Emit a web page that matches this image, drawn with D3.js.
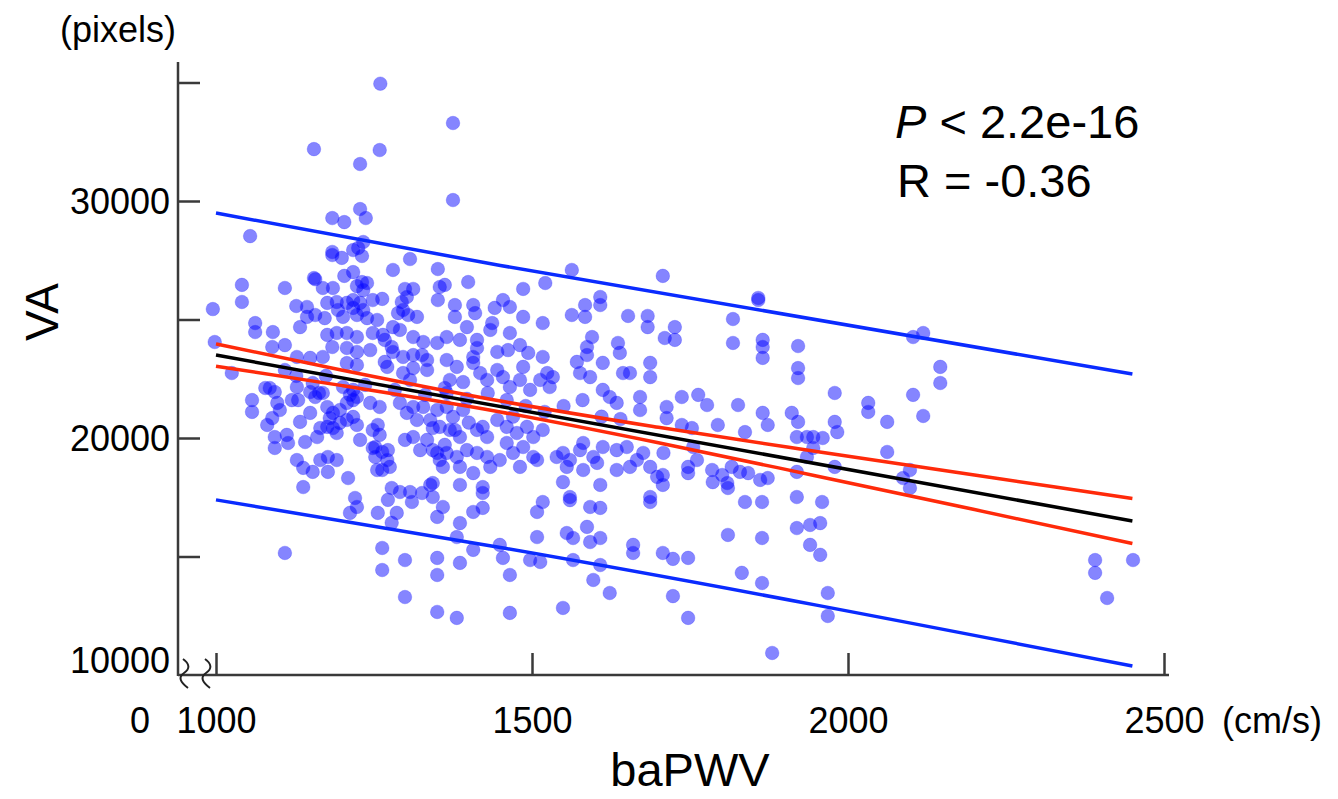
<!DOCTYPE html>
<html>
<head>
<meta charset="utf-8">
<script src="https://cdn.jsdelivr.net/npm/d3@7"></script>
<style>
  body { margin: 0; background: #fff; }
  text { font-family: 'Liberation Sans', Arial, Helvetica, sans-serif; fill: #000; }
</style>
</head>
<body>
<svg id="chart" width="1338" height="799"></svg>
<script>
'use strict'

// baPWV (cm/s) and VA (pixels)
const pwv = [
  1260,1155,1259,1228,1054,1184,1203,1228,1237,1233,1184,1184,1199,1217,1225,1231,1307,1280,1351,1217,
  1203,1155,1157,1231,1239,1041,1109,1169,1185,1223,1233,1299,1312,1302,1041,995,1127,1144,1176,1191,
  1207,1217,1228,1248,1263,1294,1354,1351,1144,1133,1157,1172,1193,1201,1217,1223,1233,1239,1255,1288,
  1296,1304,1318,1062,1062,1090,1109,1089,998,1176,1191,1207,1223,1248,1264,1267,1280,1291,1312,1328,
  1350,1169,1184,1207,1223,1244,1278,1280,1296,1312,1326,1334,1128,1149,1207,1223,1267,1271,
  1025,1057,1057,1078,1093,1081,1093,1093,1112,1114,1089,1097,1101,1128,1130,1141,1133,1128,1138,1153,
  1165,1177,1191,1177,1138,1209,1149,1160,1165,1149,1157,1169,1176,1185,1196,1207,1217,1176,1185,1196,
  1207,1217,1223,1180,1191,1201,1217,1223,1220,1223,1212,1109,1244,1259,1248,1259,1256,1248,1252,1263,
  1272,1271,1255,1263,1275,1256,1286,1278,1272,1278,1291,1307,1310,1326,1339,1343,1263,1263,1299,1299,
  1350,1350,1350,1291,1312,1302,1318,1328,1339,1343,1312,1334,1343,1354,1296,1312,1334,
  1109,1127,1085,1153,1174,1120,1163,1212,1236,1283,1307,1331,1362,1228,1252,1299,1323,1362,1378,
  1375,1375,1362,1399,1378,1378,1407,1410,1397,1441,1454,1465,1437,1434,1465,1486,1486,1521,1517,1563,
  1563,1584,1584,1608,1608,1595,1587,1587,1652,1683,1683,1707,1710,1636,1639,1365,1386,1413,1413,1445,
  1462,1481,1494,1517,1571,1612,1687,1365,1407,1407,
  1381,1370,1391,1418,1429,1445,1454,1465,1481,1486,1497,1513,1524,1533,1528,1576,1592,1612,1623,1634,
  1644,1655,1671,1687,1350,1365,1375,1391,1354,1370,1386,1413,1422,1429,1445,1460,1476,1492,1502,1517,
  1460,1470,1486,1502,1508,1449,1434,1429,1413,1397,1381,1365,1350,1359,1386,1407,1481,1539,1549,1560,
  1576,1581,1597,1603,1581,1555,1612,1634,1650,1666,1655,1634,1676,1687,1698,1708,1713,1671,1343,1359,
  1350,1386,1422,1422,1407,1422,1386,1381,1386,1407,1449,1454,1465,1508,1517,1508,1497,1513,1555,1565,
  1587,1592,1608,1592,1608,1565,1608,1597,1623,1660,1660,1549,1560,1560,1608,1687,1687,1381,1465,1549,
  1365,1397,1430,1460,1490,1520,1550,1580,1610,1640,1470,1400,
  1858,1858,1818,1726,1726,1818,1865,1865,1865,1921,1921,2103,2119,2146,
  1921,1737,1763,1777,1713,1826,1865,1873,1911,1921,1979,2032,2032,2062,1979,1983,1794,1837,1919,1935,
  1945,1960,1945,1935,1737,1753,1755,1761,1747,1747,1785,1786,1801,1809,1816,1829,1842,1810,1707,1707,
  1861,1873,1837,1864,1919,1919,1959,1979,2062,1810,1864,1919,1940,1956,1940,1956,1707,1723,1747,1832,
  1864,1723,1747,1968,1968,1880,
  2146,2103,2119,2098,2087,2098,2391,2391,2451,2410
]
const va = [
  34950,32190,32150,31560,28520,29280,29110,29660,29280,28270,27850,27720,27600,27930,28020,27680,27550,27090,27130,27000,
  26840,26750,26700,26580,26540,26460,26330,26330,26330,26410,26240,26290,26290,25950,25740,25440,25570,25530,25700,25740,
  25700,25820,25700,25820,25870,25740,26370,25820,25110,24680,25190,25060,25400,25110,25490,25190,25400,25060,24980,25270,
  25400,25190,25110,24850,24470,24470,23920,23840,24050,24350,24430,24430,24260,24430,24350,24140,24680,24560,24260,24050,
  24010,23420,23840,23800,23630,23710,23840,23630,23420,23500,23500,23290,23420,23380,23160,23080,23210,23000,
  22740,21600,21100,22110,21940,20550,20040,19580,20130,19790,20840,21480,21180,22150,21600,19830,20680,19070,18740,18570,
  19070,19200,19070,18570,17930,18310,21060,20040,20420,21940,21730,21900,21310,21060,21180,21480,21600,20470,20420,20640,
  20760,20890,20550,20840,20210,22150,22030,21730,17470,17090,16840,15150,21480,21310,20340,20130,20550,19580,19200,19410,
  19490,19070,18650,18650,18780,16840,16840,16420,17390,17890,17720,17720,17300,17680,18020,17510,15360,14430,14850,13290,
  14940,14220,12660,21480,21310,21060,20760,21310,20760,20420,20040,19920,19490,19070,22740,22950,22870,
  22870,22620,22110,22320,22620,21600,21900,21820,22240,22030,22450,21820,22110,19920,19620,19920,19490,19710,20340,
  33290,30040,26460,26580,25610,25110,25610,25270,24680,25490,25820,25530,24850,24560,24430,26290,25110,26540,24850,27090,
  25190,25610,25110,25950,25610,24260,23840,23500,25150,25150,24680,26840,24220,24010,23590,24260,24140,24140,23800,23630,
  23710,23920,23590,23420,23210,23170,23170,23290,23420,23170,
  23000,22450,22360,22740,22450,22870,22570,22150,22450,23000,22030,22450,22740,22570,22150,22740,22570,22030,21730,21480,
  22740,22740,21730,22570,21180,21310,20890,21180,20470,20340,20040,20340,20470,20040,20760,20470,20210,20470,20040,20340,
  19790,19370,19620,19200,19070,19070,18780,19200,19370,19490,19200,19370,19370,18780,18780,18520,18780,19200,19370,19070,
  19490,19790,19200,18950,18650,18780,19620,19490,19620,19070,18780,18650,19370,18780,18360,19370,21310,21180,18100,17090,
  16670,18020,17930,17680,16880,17050,16410,15820,14730,15280,15490,14940,14220,16880,17300,15820,14850,14770,15990,15780,
  16250,17090,17050,15610,15780,14850,14640,14010,13460,15490,15150,18140,17510,17380,18020,17510,17300,12410,12620,12830,
  21900,21650,21900,21600,21350,21100,21350,21600,20900,20800,20900,20650,
  25910,25820,25020,24680,24140,24010,24140,23840,23380,23880,22950,24260,24430,23000,
  22530,21730,21820,21390,20840,21390,21060,20550,21060,20680,21900,21480,21100,20680,20680,20250,20550,20250,20040,20040,
  20040,20000,19580,19200,20550,20420,19620,19070,18780,18520,18650,18140,18440,18100,18780,18570,18520,17890,18440,18020,
  18230,18310,17300,17300,18570,17510,17300,18780,19410,15910,15780,16200,16330,16410,15490,15070,15150,14900,14940,14310,
  13880,13330,12410,13460,12490,10930,
  22320,21820,20930,18650,18310,17890,14850,14310,14850,13250
]

// regression line, 95% confidence band (red) and prediction band (blue)
const fitX = [1000, 2450]
const fitY = [23500, 16500]
const ciX = [1000, 1200, 1450, 1700, 1950, 2200, 2450]
const ciUpper = [23970, 22860, 21560, 20450, 19430, 18440, 17450]
const ciLower = [23030, 22210, 21100, 19800, 18400, 16980, 15550]
const piX = [1000, 1450, 2450]
const piUpper = [29490, 27280, 22700]
const piLower = [17390, 15380, 10380]

const xTicks = [1000, 1500, 2000, 2500]
const yTicks = [15000, 20000, 25000, 30000, 35000]
const yLabels = [20000, 30000]

const svg = d3.select('#chart')
const x = d3.scaleLinear().domain([1000, 2500]).range([216, 1164])
const y = d3.scaleLinear().domain([10000, 30000]).range([675, 201])
const axisX0 = 178
const axisY0 = 675

// axis lines
const axes = svg.append('g').attr('stroke', '#3a3a3a').attr('stroke-width', 2.5).attr('fill', 'none')
axes.append('line').attr('x1', axisX0).attr('x2', axisX0).attr('y1', 62).attr('y2', axisY0 + 1)
axes.append('line').attr('x1', axisX0).attr('x2', 1169).attr('y1', axisY0).attr('y2', axisY0)

// y ticks point inward
svg.append('g')
  .attr('transform', `translate(${axisX0},0)`)
  .call(d3.axisRight(y).tickValues(yTicks).tickSize(22).tickFormat(''))
  .call(g => g.select('.domain').remove())
  .call(g => g.selectAll('line').attr('stroke', '#3a3a3a').attr('stroke-width', 2.5))

svg.append('g')
  .attr('transform', `translate(0,${axisY0})`)
  .call(d3.axisBottom(x).tickValues(xTicks).tickFormat(d3.format('d'))
    .tickSizeInner(-22).tickSizeOuter(0).tickPadding(32))
  .call(g => g.select('.domain').remove())
  .call(g => g.selectAll('line').attr('stroke', '#3a3a3a').attr('stroke-width', 2.5))
  .call(g => g.selectAll('text').attr('font-size', 36).attr('font-family', "'Liberation Sans', Arial, sans-serif").attr('fill', '#000'))

// axis break marks
const breakPath = x0 => `M${x0},659 C${x0 + 7},664 ${x0 + 7},669 ${x0 + 1},673 S${x0 - 3},682 ${x0 + 5},688`
svg.append('g').attr('stroke', '#222').attr('stroke-width', 2).attr('fill', 'none')
  .selectAll('path').data([183, 205]).join('path').attr('d', d => breakPath(d))

svg.selectAll('text.ylab').data(yLabels).join('text').attr('class', 'ylab')
  .attr('x', 170).attr('y', d => y(d)).attr('dy', '0.36em')
  .attr('text-anchor', 'end').attr('font-size', 36).text(d => d)
svg.append('text').attr('x', 170).attr('y', 660).attr('dy', '0.36em')
  .attr('text-anchor', 'end').attr('font-size', 36).text('10000')
svg.append('text').attr('x', 140).attr('y', 720).attr('dy', '0.36em')
  .attr('text-anchor', 'middle').attr('font-size', 36).text('0')
svg.append('text').attr('x', 1222).attr('y', 720).attr('dy', '0.36em')
  .attr('font-size', 36).text('(cm/s)')
svg.append('text').attr('x', 60).attr('y', 42).attr('font-size', 36).text('(pixels)')

svg.append('text').attr('transform', 'translate(58,312) rotate(-90)')
  .attr('text-anchor', 'middle').attr('font-size', 46).text('VA')
svg.append('text').attr('x', 690).attr('y', 786)
  .attr('text-anchor', 'middle').attr('font-size', 47).text('baPWV')

// points
svg.append('g').selectAll('circle').data(pwv.map((d, i) => [d, va[i]])).join('circle')
  .attr('cx', d => x(d[0])).attr('cy', d => y(d[1])).attr('r', 6.8)
  .attr('fill', '#0000ff').attr('fill-opacity', 0.48)
  .attr('stroke', '#2020ff').attr('stroke-opacity', 0.25).attr('stroke-width', 1)

const line = d3.line().x(d => x(d[0])).y(d => y(d[1])).curve(d3.curveMonotoneX)
const zip = (xs, ys) => xs.map((d, i) => [d, ys[i]])
const lines = [
  { pts: zip(piX, piUpper), color: '#0a2bff' },
  { pts: zip(piX, piLower), color: '#0a2bff' },
  { pts: zip(ciX, ciUpper), color: '#ff2a0a' },
  { pts: zip(ciX, ciLower), color: '#ff2a0a' },
  { pts: zip(fitX, fitY), color: '#000' }
]
svg.append('g').selectAll('path').data(lines).join('path')
  .attr('d', d => line(d.pts)).attr('fill', 'none')
  .attr('stroke', d => d.color).attr('stroke-width', 3.5)

// statistics
const stat = svg.append('g').attr('font-size', 47)
const p = stat.append('text').attr('x', 895).attr('y', 138)
p.append('tspan').attr('font-style', 'italic').text('P')
p.append('tspan').text(' < 2.2e-16')
stat.append('text').attr('x', 897).attr('y', 197).text('R = -0.36')
</script>
</body>
</html>
